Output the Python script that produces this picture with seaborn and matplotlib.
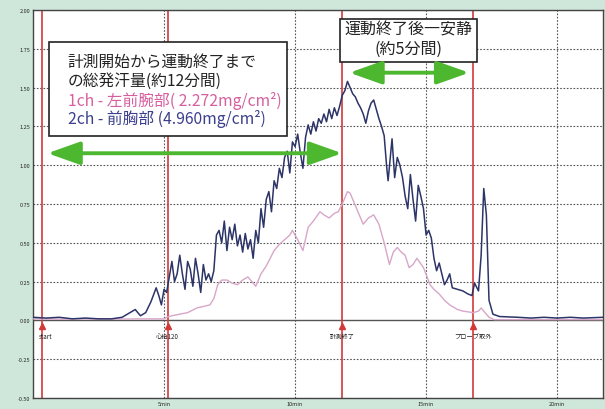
import matplotlib
matplotlib.use("Agg")
import matplotlib.pyplot as plt
from matplotlib.patches import Rectangle, FancyArrowPatch
import seaborn as sns
import pandas as pd

# ---- data (minutes, mg/cm^2/min) ----
ch2_t = [0.0, 0.5, 1.0, 1.5, 2.0, 2.5, 3.0, 3.4, 3.7, 3.9, 4.1, 4.3, 4.5, 4.7, 4.8, 4.9,
         5.0, 5.1, 5.2, 5.3, 5.4, 5.5, 5.6, 5.7, 5.8, 5.9, 6.0, 6.1, 6.2, 6.3, 6.4, 6.5,
         6.6, 6.7, 6.8, 6.9, 7.0, 7.1, 7.2, 7.3, 7.4, 7.5, 7.6, 7.7, 7.8, 7.9, 8.0, 8.1,
         8.2, 8.3, 8.4, 8.5, 8.6, 8.7, 8.8, 8.9, 9.0, 9.1, 9.2, 9.3, 9.4, 9.5, 9.6, 9.7,
         9.8, 9.9, 10.0, 10.1, 10.2, 10.3, 10.4, 10.5, 10.6, 10.7, 10.8, 10.9, 11.0, 11.1,
         11.2, 11.3, 11.4, 11.5, 11.6, 11.7, 11.8, 11.9, 12.0, 12.1, 12.2, 12.3, 12.4, 12.5,
         12.6, 12.7, 12.8, 12.9, 13.0, 13.1, 13.2, 13.3, 13.4, 13.5, 13.55, 13.7, 13.8, 13.9,
         14.0, 14.1, 14.2, 14.3, 14.4, 14.5, 14.6, 14.7, 14.8, 14.9, 15.0, 15.1, 15.2, 15.3,
         15.4, 15.5, 15.6, 15.7, 15.8, 15.9, 16.0, 16.2, 16.4, 16.6, 16.75, 16.85, 17.0, 17.1,
         17.2, 17.3, 17.4, 17.55, 17.8, 18.5, 19.0, 19.5, 20.0, 20.5, 21.0, 21.75]
ch2_v = [0.02, 0.015, 0.02, 0.01, 0.015, 0.01, 0.01, 0.02, 0.05, 0.07, 0.03, 0.05, 0.12, 0.21, 0.16, 0.10,
         0.20, 0.18, 0.28, 0.38, 0.25, 0.30, 0.42, 0.30, 0.20, 0.38, 0.33, 0.22, 0.40, 0.30, 0.18, 0.36,
         0.26, 0.30, 0.25, 0.32, 0.55, 0.58, 0.50, 0.64, 0.45, 0.60, 0.52, 0.62, 0.48, 0.55, 0.44, 0.56,
         0.46, 0.52, 0.40, 0.58, 0.50, 0.72, 0.60, 0.78, 0.83, 0.70, 0.90, 0.85, 0.98, 0.92, 1.05, 1.09,
         0.95, 1.15, 1.12, 1.20, 1.08, 0.98, 1.18, 1.26, 1.20, 1.28, 1.22, 1.30, 1.27, 1.33,
         1.28, 1.36, 1.30, 1.37, 1.32, 1.38, 1.45, 1.48, 1.54, 1.50, 1.46, 1.44, 1.40, 1.37,
         1.33, 1.27, 1.35, 1.40, 1.42, 1.36, 1.30, 1.25, 1.19, 0.98, 0.90, 1.17, 0.92, 1.05,
         1.00, 0.92, 0.80, 0.72, 0.94, 0.78, 0.64, 0.87, 0.80, 0.72, 0.55, 0.58, 0.53, 0.40,
         0.32, 0.37, 0.30, 0.23, 0.26, 0.30, 0.21, 0.20, 0.19, 0.17, 0.16, 0.24, 0.19, 0.42,
         0.85, 0.68, 0.13, 0.04, 0.025, 0.02, 0.015, 0.02, 0.015, 0.02, 0.015, 0.02]

ch1_t = [0.0, 1.0, 2.0, 3.0, 4.0, 5.0, 5.1, 5.3, 5.6, 5.9, 6.25, 6.5, 6.75, 6.9, 7.05, 7.2,
         7.4, 7.6, 7.8, 8.0, 8.2, 8.35, 8.5, 8.7, 8.9, 9.05, 9.2, 9.4, 9.6, 9.8, 9.9, 10.1,
         10.3, 10.5, 10.7, 10.95, 11.1, 11.3, 11.5, 11.65, 11.8, 12.0, 12.1, 12.35, 12.6, 12.8,
         13.0, 13.2, 13.4, 13.6, 13.75, 13.9, 14.05, 14.2, 14.35, 14.5, 14.65, 14.9, 15.15, 15.3,
         15.5, 15.7, 15.9, 16.2, 16.4, 16.8, 17.0, 17.1, 17.25, 17.4, 17.6, 18.0, 19.0, 20.0,
         21.0, 21.75]
ch1_v = [0.01, 0.008, 0.01, 0.008, 0.01, 0.01, 0.02, 0.03, 0.04, 0.05, 0.08, 0.09, 0.10, 0.14, 0.23, 0.26,
         0.26, 0.24, 0.23, 0.26, 0.28, 0.25, 0.22, 0.30, 0.35, 0.40, 0.45, 0.49, 0.52, 0.55, 0.58, 0.52,
         0.45, 0.60, 0.64, 0.70, 0.68, 0.66, 0.69, 0.70, 0.75, 0.83, 0.82, 0.72, 0.62, 0.66,
         0.68, 0.62, 0.50, 0.36, 0.44, 0.47, 0.44, 0.42, 0.34, 0.36, 0.40, 0.34, 0.23, 0.20,
         0.17, 0.13, 0.10, 0.07, 0.06, 0.05, 0.06, 0.08, 0.05, 0.02, 0.005, 0.005, 0.005, 0.005,
         0.005, 0.005]

event_t = [0.33, 5.14, 11.8, 16.8]
event_labels = ["start", "心拍120", "計測終了", "プローブ取外"]

ytick_vals = [-0.50, -0.25, 0.00, 0.25, 0.50, 0.75, 1.00, 1.25, 1.50, 1.75, 2.00]
xtick_vals = [5, 10, 15, 20]
xtick_labels = ["5min", "10min", "15min", "20min"]

box1_lines = ["計測開始から運動終了まで", "の総発汗量(約12分間)",
              "1ch - 左前腕部( 2.272mg/cm²)", "2ch - 前胸部 (4.960mg/cm²)"]
box2_lines = ["運動終了後一安静", "(約5分間)"]

# ---- style ----
sns.set_style("white")
plt.rcParams['font.family'] = ['Noto Sans CJK JP', 'DejaVu Sans']

BG = "#cfe7da"
NAVY = "#2c3468"
PINK = "#d8a6c8"
PINK_TXT = "#d6609e"
NAVY_TXT = "#3b3f8c"
RED = "#d23a3a"
GREEN = "#4db82f"

fig = plt.figure(figsize=(6.05, 4.10), dpi=100, facecolor=BG)
ax = fig.add_axes([33/605, 11/410, (603-33)/605, (399-11)/410])
ax.set_facecolor("white")

df2 = pd.DataFrame({"t": ch2_t, "v": ch2_v})
df1 = pd.DataFrame({"t": ch1_t, "v": ch1_v})

ax.set_xlim(0, 21.75)
ax.set_ylim(-0.5, 2.0)

# grid
for y in ytick_vals:
    if y == 0:
        ax.axhline(0, color="#555555", lw=1.0, zorder=1)
    else:
        ax.axhline(y, color="#555555", lw=0.8, ls=(0, (1.5, 1.5)), zorder=1)
for x in xtick_vals:
    ax.axvline(x, color="#555555", lw=0.8, ls=(0, (1.5, 1.5)), zorder=1)

# event lines
for t, lab in zip(event_t, event_labels):
    ax.axvline(t, color=RED, lw=1.2, zorder=2)
    ax.plot([t], [-0.035], marker="^", color=RED, ms=4, zorder=4)
    ha = "left" if lab == "start" else "center"
    ax.text(t - (0.1 if lab == "start" else 0), -0.10, lab, fontsize=4.5, ha=ha, va="center",
            color="#222222", zorder=5)

sns.lineplot(data=df1, x="t", y="v", ax=ax, color=PINK, lw=1.0, zorder=3)
sns.lineplot(data=df2, x="t", y="v", ax=ax, color=NAVY, lw=1.1, zorder=3)

ax.set_xlabel("")
ax.set_ylabel("")
ax.set_yticks(ytick_vals)
ax.set_yticklabels([f"{v:.2f}" for v in ytick_vals], fontsize=4)
ax.set_xticks(xtick_vals)
ax.set_xticklabels(xtick_labels, fontsize=4)
ax.tick_params(length=0, pad=2)
for s in ax.spines.values():
    s.set_color("#444444")
    s.set_linewidth(1.0)

# box 1
ax.add_patch(Rectangle((0.61, 1.19), 9.08, 0.605, facecolor="white", edgecolor="#222222",
                       lw=1.2, zorder=6))
cols = ["#222222", "#222222", PINK_TXT, NAVY_TXT]
ys = [1.667, 1.545, 1.417, 1.305]
for line, c, y in zip(box1_lines, cols, ys):
    ax.text(1.33, y, line, fontsize=11.3, color=c, ha="left", va="center", zorder=7)

# box 2
ax.add_patch(Rectangle((11.72, 1.665), 5.24, 0.275, facecolor="white", edgecolor="#222222",
                       lw=1.2, zorder=6))
ax.text(14.34, 1.875, box2_lines[0], fontsize=11.5, color="#222222", ha="center", va="center", zorder=7)
ax.text(14.34, 1.75, box2_lines[1], fontsize=11.5, color="#222222", ha="center", va="center", zorder=7)

# arrows
for (x0, x1, y) in [(0.45, 11.9, 1.077), (11.97, 16.75, 1.596)]:
    ax.add_patch(FancyArrowPatch((x0, y), (x1, y),
                                 arrowstyle="<|-|>,head_length=9,head_width=3.2",
                                 color=GREEN, lw=2.8, zorder=6, mutation_scale=2.2))

fig.savefig("out.png", dpi=100, facecolor=BG)
